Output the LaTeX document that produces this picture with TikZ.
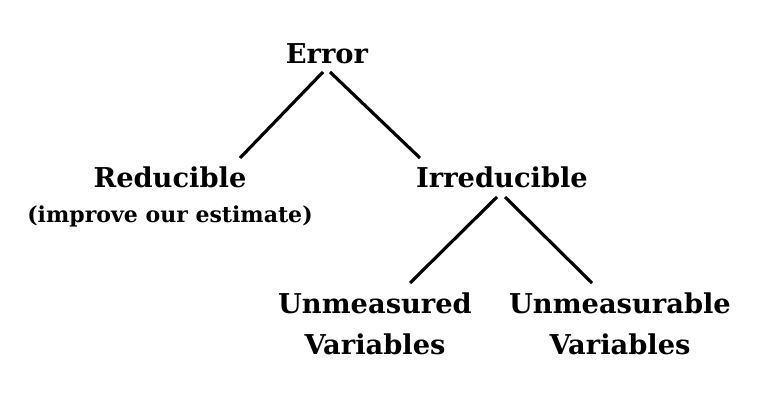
\documentclass[tikz,border=0pt]{standalone}
\usepackage{fontspec}
\setmainfont{DejaVu Serif}
\begin{document}
\begin{tikzpicture}[x=0.03cm,y=-0.03cm]
      \tikzset{lbl/.style={font=\bfseries\fontsize{23.3}{27}\selectfont, inner sep=0pt, anchor=base},
               note/.style={font=\bfseries\fontsize{18.8}{22}\selectfont, inner sep=0pt, anchor=base},
               branch/.style={line width=2.7pt}}
      \useasboundingbox (0,0) rectangle (768,403);
      \node[lbl] (error) at (327,64) {Error};
      \node[lbl] (red) at (170,188) {Reducible};
      \node[note] (est) at (170,223) {(improve our estimate)};
      \node[lbl] (irr) at (502,188) {Irreducible};
      \node[lbl] (unm1) at (375,313) {Unmeasured};
      \node[lbl] (var1) at (375,354) {Variables};
      \node[lbl] (unm2) at (620,313) {Unmeasurable};
      \node[lbl] (var2) at (620,354) {Variables};
      % branch ends
      \coordinate (e-l) at (323,72);
      \coordinate (e-r) at (330,72);
      \coordinate (red-t) at (240,158);
      \coordinate (irr-t) at (420,158);
      \coordinate (i-l) at (497,197);
      \coordinate (i-r) at (505,197);
      \coordinate (unm1-t) at (410,283);
      \coordinate (unm2-t) at (592,283);
      \draw[branch] (e-l) -- (red-t);
      \draw[branch] (e-r) -- (irr-t);
      \draw[branch] (i-l) -- (unm1-t);
      \draw[branch] (i-r) -- (unm2-t);
\end{tikzpicture}
\end{document}
